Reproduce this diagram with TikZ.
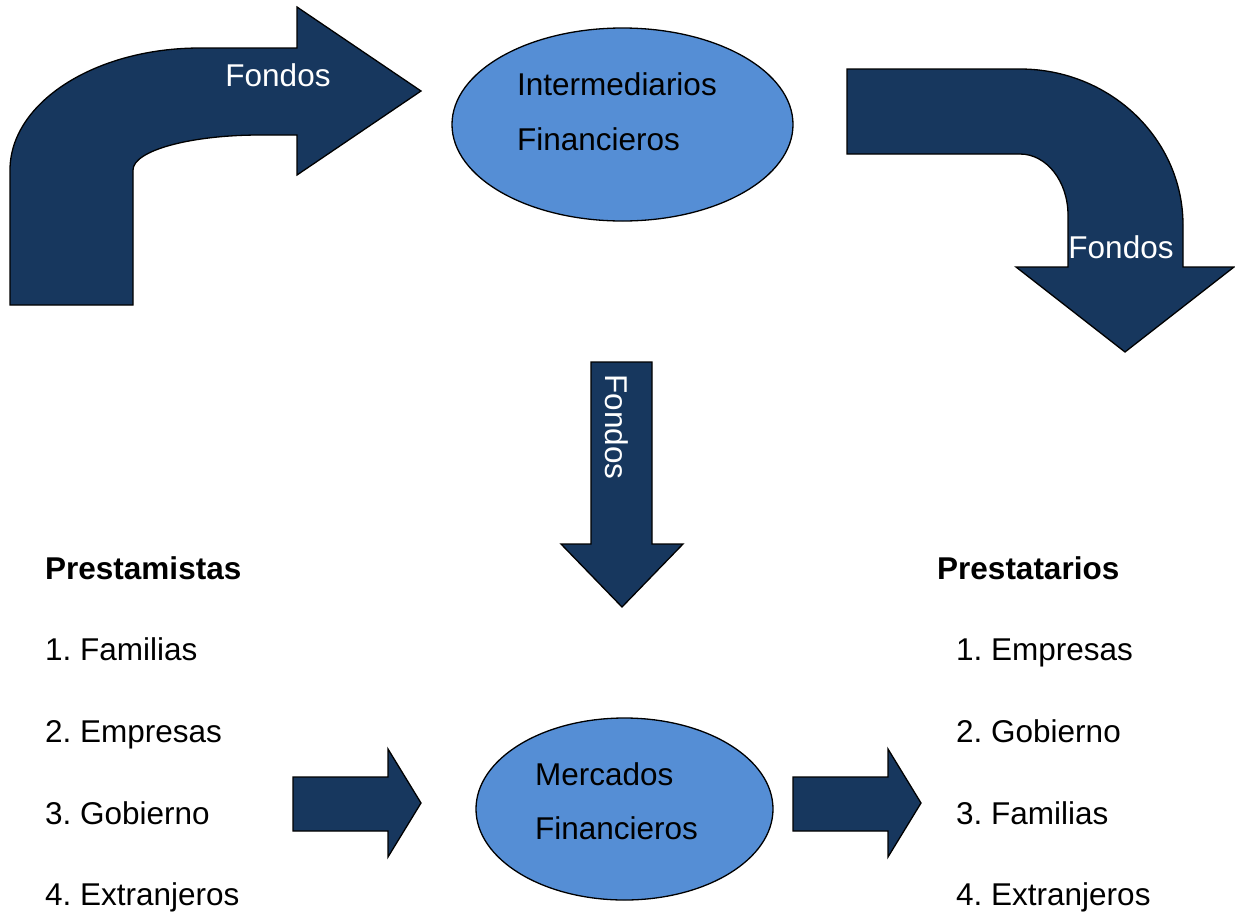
\documentclass[tikz,border=0pt]{standalone}
\usepackage{fontspec}
\setmainfont{Liberation Sans}
\usetikzlibrary{shapes.geometric}
\definecolor{navy}{HTML}{17375E}
\definecolor{skyfill}{HTML}{558ED5}
\frenchspacing
\tikzset{
  blockarrow/.style={fill=navy, draw=black, line width=1.3, line join=miter},
  bubble/.style={ellipse, fill=skyfill, draw=black, line width=1.3, inner sep=0},
  label/.style={inner sep=0, font=\fontsize{31.5}{37}\selectfont},
  flowlabel/.style={label, text=white},
}
\begin{document}
\begin{tikzpicture}[x=1pt, y=-1pt]
\useasboundingbox (0,0) rectangle (1235,914);

% bent arrow rising from the lenders into the intermediaries
\draw[blockarrow] (10,305) -- (10,170)
  .. controls (10,102.6) and (95.1,48) .. (200,48)
  -- (297,48) -- (297,7) -- (421,91) -- (297,175) -- (297,135) -- (260,135)
  .. controls (189.9,135) and (133,150.7) .. (133,170)
  -- (133,305) -- cycle;
\node[flowlabel, anchor=base] (fondosA) at (278,86) {Fondos};

% bent arrow from the intermediaries down to the borrowers
\draw[blockarrow] (847,69) -- (1020,69)
  .. controls (1110,69) and (1183,138.8) .. (1183,225)
  -- (1183,267) -- (1234,267) -- (1125,352) -- (1016,267) -- (1068,267) -- (1068,215)
  .. controls (1068,181.3) and (1046.5,154) .. (1020,154)
  -- (847,154) -- cycle;
\node[flowlabel, anchor=base] (fondosB) at (1121,258) {Fondos};

% straight down arrow
\draw[blockarrow] (591,362) -- (652,362) -- (652,544) -- (683,544) -- (622,607)
  -- (561,544) -- (591,544) -- cycle;
\node[flowlabel, rotate=-90] (fondosC) at (617,427) {Fondos};

% financial intermediaries
\node[bubble, minimum width=341, minimum height=193] (intermed) at (622.5,124.5) {};
\node[label, anchor=base west] (intermedA) at (517,95) {Intermediarios};
\node[label, anchor=base west] (intermedB) at (517,150) {Financieros};

% financial markets
\node[bubble, minimum width=297, minimum height=182] (mercados) at (624.5,809) {};
\node[label, anchor=base west] (mercadosA) at (535,785) {Mercados};
\node[label, anchor=base west] (mercadosB) at (535,839) {Financieros};

% arrows into and out of the markets
\draw[blockarrow] (293,777) -- (388,777) -- (388,749) -- (421,803) -- (388,857)
  -- (388,831) -- (293,831) -- cycle;
\draw[blockarrow] (793,777) -- (888,777) -- (888,749) -- (921,803) -- (888,857)
  -- (888,831) -- (793,831) -- cycle;

% lenders
\node[label, anchor=base west, font=\fontsize{31.5}{37}\selectfont\bfseries] (lenders) at (45,579) {Prestamistas};
\node[label, anchor=base west] (l1) at (45,660) {1. Familias};
\node[label, anchor=base west] (l2) at (45,742) {2. Empresas};
\node[label, anchor=base west] (l3) at (45,824) {3. Gobierno};
\node[label, anchor=base west] (l4) at (45,905) {4. Extranjeros};

% borrowers
\node[label, anchor=base west, font=\fontsize{31.5}{37}\selectfont\bfseries] (borrowers) at (937,579) {Prestatarios};
\node[label, anchor=base west] (b1) at (956,660) {1. Empresas};
\node[label, anchor=base west] (b2) at (956,742) {2. Gobierno};
\node[label, anchor=base west] (b3) at (956,824) {3. Familias};
\node[label, anchor=base west] (b4) at (956,905) {4. Extranjeros};
\end{tikzpicture}
\end{document}
